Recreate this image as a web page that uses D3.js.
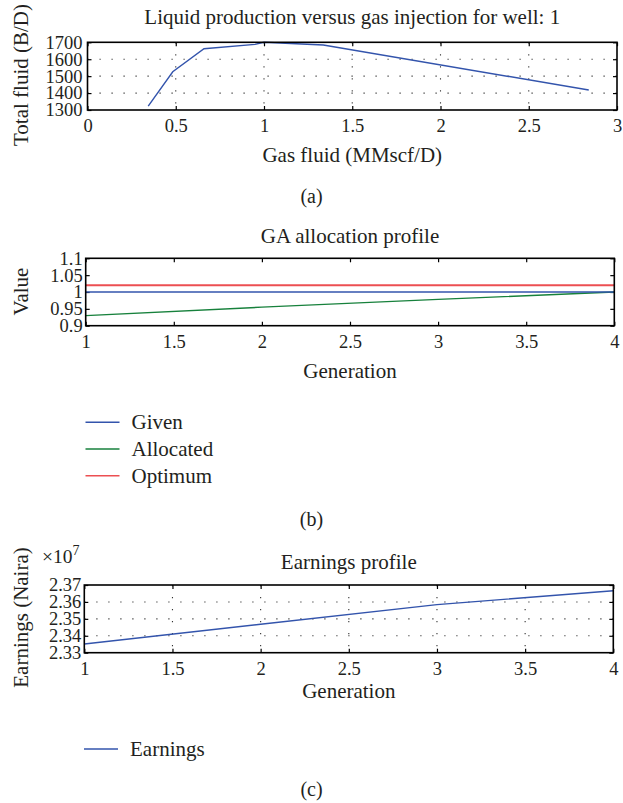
<!DOCTYPE html>
<html><head><meta charset="utf-8">
<script src="https://cdn.jsdelivr.net/npm/d3@7"></script>
<style>
body{margin:0;background:#fff}
text{font-family:"Liberation Serif","Times New Roman",serif;fill:#231f20}
</style>
</head><body><svg id="chart" width="623" height="803"></svg>
<script>
// ---------- data ----------
const wellGas   = [0.344, 0.483, 0.66, 0.949, 1.0, 1.336, 2.84];
const wellFluid = [1323, 1526, 1662, 1688, 1700, 1684, 1418];
const gasTicks   = [0, 0.5, 1, 1.5, 2, 2.5, 3];
const fluidTicks = [1300, 1400, 1500, 1600, 1700];

const generations     = [1, 2, 3, 4];
const givenValues     = [1, 1, 1, 1];
const allocatedValues = [0.93, 0.955, 0.978, 1.0];
const optimumValues   = [1.02, 1.02, 1.02, 1.02];
const genTicks   = [1, 1.5, 2, 2.5, 3, 3.5, 4];
const valueTicks = [0.9, 0.95, 1, 1.05, 1.1];

const earnings      = [23351000, 23468000, 23584000, 23666000];
const earningsTicks = [23300000, 23400000, 23500000, 23600000, 23700000];

const legendB = ["Given", "Allocated", "Optimum"];
const legendC = ["Earnings"];

const BLUE = "#3354ac", GREEN = "#17813c", RED = "#ec4f52";

const svg = d3.select("#chart");
svg.append("rect").attr("width",623).attr("height",803).attr("fill","#fff");

function panel(o){
  const x = d3.scaleLinear().domain(o.xDomain).range([o.l, o.r]);
  const y = d3.scaleLinear().domain(o.yDomain).range([o.b, o.t]);
  const g = svg.append("g");
  if (o.grid){
    g.append("g").selectAll("line").data(o.yTicks.slice(1,-1)).join("line")
      .attr("x1",o.l).attr("x2",o.r).attr("y1",d=>y(d)).attr("y2",d=>y(d))
      .attr("stroke","#333").attr("stroke-width",1.1).attr("stroke-dasharray","1.2,10.8");
    g.append("g").selectAll("line").data(o.xTicks.slice(1,-1)).join("line")
      .attr("y1",o.t).attr("y2",o.b).attr("x1",d=>x(d)).attr("x2",d=>x(d))
      .attr("stroke","#333").attr("stroke-width",1.1).attr("stroke-dasharray","1.2,10.8");
  }
  const ax = (gen, tr, labels) => {
    const a = g.append("g").attr("transform", tr).call(gen);
    a.select(".domain").remove();
    a.selectAll(".tick line").attr("stroke","#000").attr("stroke-width",1.2);
    if (!labels) a.selectAll(".tick text").remove();
    else a.selectAll(".tick text").attr("font-size", 18.5).attr("font-family","Liberation Serif").attr("fill","#231f20");
    return a;
  };
  ax(d3.axisBottom(x).tickValues(o.xTicks).tickSizeInner(-4).tickSizeOuter(0).tickPadding(o.xPad).tickFormat(o.xFmt),
     `translate(0,${o.b})`, true);
  ax(d3.axisTop(x).tickValues(o.xTicks).tickSizeInner(-4).tickSizeOuter(0),
     `translate(0,${o.t})`, false);
  ax(d3.axisLeft(y).tickValues(o.yTicks).tickSizeInner(-4).tickSizeOuter(0).tickPadding(o.yPad).tickFormat(o.yFmt),
     `translate(${o.l},0)`, true);
  ax(d3.axisRight(y).tickValues(o.yTicks).tickSizeInner(-4).tickSizeOuter(0),
     `translate(${o.r},0)`, false);
  const line = d3.line().x(d=>x(d[0])).y(d=>y(d[1]));
  o.series.forEach(s=>{
    g.append("path").datum(s.xs.map((v,i)=>[v,s.ys[i]]))
      .attr("d",line).attr("fill","none").attr("stroke",s.color).attr("stroke-width",s.w||1.4);
  });
  g.append("rect").attr("x",o.l).attr("y",o.t).attr("width",o.r-o.l).attr("height",o.b-o.t)
    .attr("fill","none").attr("stroke","#000").attr("stroke-width",1.6);
  const cx = (o.l+o.r)/2;
  g.append("text").attr("x",cx).attr("y",o.titleY).attr("text-anchor","middle")
    .attr("font-size",21).text(o.title);
  g.append("text").attr("x",cx).attr("y",o.xLabelY).attr("text-anchor","middle")
    .attr("font-size",21).text(o.xLabel);
  g.append("text").attr("transform",`translate(28,${o.yLabelC}) rotate(-90)`).attr("text-anchor","middle")
    .attr("font-size",21).text(o.yLabel);
  g.append("text").attr("x",311.5).attr("y",o.capY).attr("text-anchor","middle")
    .attr("font-size",20).text(o.cap);
  return {x,y,g};
}

panel({
  l:87.5, r:617, t:42.3, b:110,
  xDomain:[0,3], yDomain:[1300,1700], xTicks:gasTicks, yTicks:fluidTicks,
  xFmt: d=>String(d), yFmt: d=>String(d), xPad:9, yPad:5, grid:true,
  series:[{xs:wellGas, ys:wellFluid, color:BLUE}],
  title:"Liquid production versus gas injection for well: 1", titleY:24,
  xLabel:"Gas fluid (MMscf/D)", xLabelY:162, yLabel:"Total fluid (B/D)", yLabelC:75,
  cap:"(a)", capY:203
});

panel({
  l:85.7, r:614.3, t:258.3, b:325.7,
  xDomain:[1,4], yDomain:[0.9,1.1], xTicks:genTicks, yTicks:valueTicks,
  xFmt: d=>String(d), yFmt: d=>String(d), xPad:9.5, yPad:3, grid:false,
  series:[
    {xs:generations, ys:allocatedValues, color:GREEN},
    {xs:generations, ys:givenValues, color:BLUE, w:1.6},
    {xs:generations, ys:optimumValues, color:RED, w:1.8}
  ],
  title:"GA allocation profile", titleY:243,
  xLabel:"Generation", xLabelY:378.3, yLabel:"Value", yLabelC:291.5,
  cap:"(b)", capY:526
});

panel({
  l:84.3, r:613.3, t:585, b:652.7,
  xDomain:[1,4], yDomain:[23300000,23700000], xTicks:genTicks, yTicks:earningsTicks,
  xFmt: d=>String(d), yFmt: d=>(d/1e7).toFixed(2), xPad:9.5, yPad:3, grid:true,
  series:[{xs:generations, ys:earnings, color:BLUE}],
  title:"Earnings profile", titleY:569,
  xLabel:"Generation", xLabelY:698.3, yLabel:"Earnings (Naira)", yLabelC:617.5,
  cap:"(c)", capY:796
});

const ex = svg.append("text").attr("x",42).attr("y",563).attr("font-size",19.5);
ex.append("tspan").text("\u00d710");
ex.append("tspan").attr("dy",-8).attr("font-size",14).text("7");

function legend(items, colors, x0, y0, dy){
  const lg = svg.append("g");
  items.forEach((t,i)=>{
    const yy = y0 + i*dy;
    lg.append("line").attr("x1",x0).attr("x2",x0+34).attr("y1",yy).attr("y2",yy)
      .attr("stroke",colors[i]).attr("stroke-width",1.4);
    lg.append("text").attr("x",x0+46).attr("y",yy+6.8).attr("font-size",21).text(t);
  });
}
legend(legendB, [BLUE, GREEN, RED], 85.5, 422.3, 26.7);
legend(legendC, [BLUE], 84, 749, 0);
</script>
</body></html>
